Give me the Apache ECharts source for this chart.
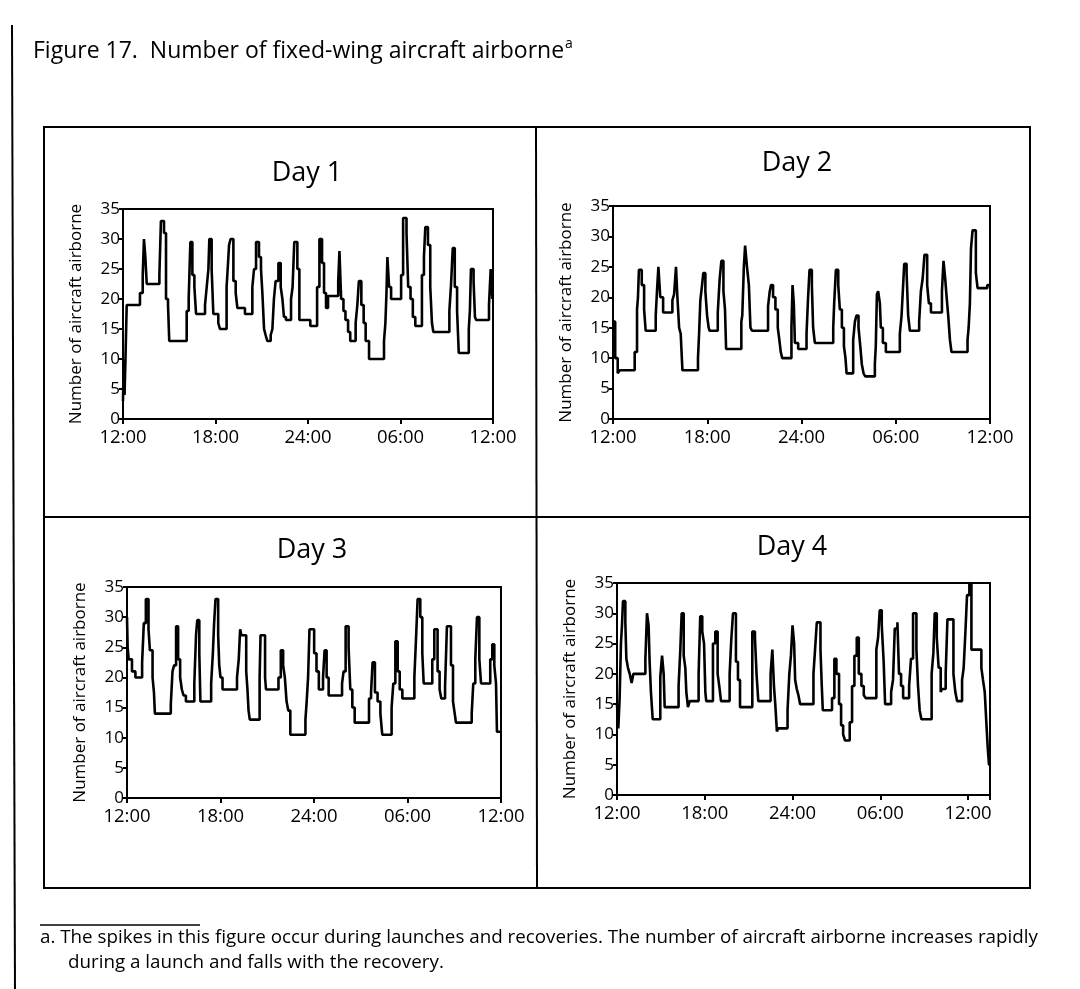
<!DOCTYPE html>
<html><head><meta charset="utf-8">
<script src="https://cdn.jsdelivr.net/npm/echarts@6/dist/echarts.min.js"></script>
<style>html,body{margin:0;padding:0;background:#fff}#c{width:1080px;height:989px}</style>
</head><body><div id="c"></div>
<script>
// ---- data ----
const xTickLabels = ['12:00', '18:00', '24:00', '06:00', '12:00'];
const dayNames = ['Day 1', 'Day 2', 'Day 3', 'Day 4'];
const yAxisName = 'Number of aircraft airborne';
// [hours after 12:00, aircraft airborne] – value holds until next point
const day1 = [[0,3],[0.05,10],[0.1,4],[0.16,10],[0.24,19],[1.10,21],[1.28,24],[1.36,30],[1.45,27],[1.54,22.5],[2.36,24],[2.46,33],[2.66,31],[2.79,20],[2.92,19],[3.0,13],[4.13,18],[4.26,20],[4.37,29.5],[4.5,24],[4.63,22],[4.74,17.5],[5.32,19],[5.43,22],[5.54,25],[5.6,30],[5.75,25],[5.86,17.5],[6.18,16],[6.29,15],[6.72,22],[6.79,25],[6.88,29],[6.98,30],[7.16,23],[7.31,21],[7.42,18.5],[7.91,17.5],[8.39,22],[8.5,25],[8.63,29.5],[8.82,27],[8.95,25],[9.04,21],[9.15,15],[9.25,14],[9.36,13],[9.58,14],[9.69,15],[9.79,20],[9.9,23],[10.08,26],[10.23,22],[10.34,20],[10.44,17],[10.57,16.5],[10.9,20],[11.0,22],[11.11,29.5],[11.31,25],[11.44,16.5],[12.15,15.5],[12.59,22],[12.74,30],[12.91,26],[13.04,21],[13.17,18.5],[13.3,20.5],[13.96,23],[14.04,28],[14.15,20],[14.3,18],[14.43,16.5],[14.6,14.5],[14.74,13],[15.09,16],[15.2,19],[15.3,23],[15.46,19],[15.61,16],[15.74,13],[15.96,10],[16.93,13],[17.02,16],[17.09,21],[17.15,27],[17.26,22],[17.39,20],[18.04,24],[18.17,33.5],[18.39,31],[18.5,22],[18.65,20],[18.8,17],[18.96,15.5],[19.39,24],[19.52,27],[19.61,32],[19.78,29],[19.93,22],[20.04,16],[20.13,14.5],[21.17,18],[21.28,22.5],[21.39,28.5],[21.52,22],[21.67,18],[21.78,11],[22.43,15],[22.5,18],[22.57,25],[22.74,23],[22.83,17],[22.91,16.5],[23.74,19],[23.85,25],[23.96,20]];
const day2 = [[0,16],[0.14,10],[0.30,7.5],[0.42,8],[1.38,11],[1.53,18],[1.59,20],[1.65,24.5],[1.83,22],[1.98,18],[2.08,14.5],[2.72,17],[2.80,21],[2.89,25],[3.01,20],[3.19,17.5],[3.78,19.5],[3.89,20.5],[4.01,25],[4.10,20],[4.21,15],[4.31,14],[4.42,8],[5.41,10],[5.48,14],[5.56,19.5],[5.67,22],[5.75,24],[5.88,21],[5.99,17],[6.09,15],[6.15,14.5],[6.67,17.5],[6.79,23],[6.90,26],[7.03,21],[7.13,18],[7.2,11.5],[8.17,16],[8.23,17],[8.33,25],[8.41,28.5],[8.53,25],[8.65,22],[8.75,15],[8.85,14.5],[9.87,18.5],[9.98,21],[10.06,22],[10.19,20],[10.34,18],[10.49,15],[10.59,13],[10.68,11],[10.77,10],[11.36,15],[11.43,22],[11.51,19],[11.58,12.5],[11.79,11.5],[12.32,14],[12.42,20],[12.51,24.5],[12.66,22],[12.74,15],[12.85,12.5],[14.02,15],[14.08,19],[14.19,24.5],[14.34,22],[14.44,18],[14.57,15],[14.7,12],[14.8,10],[14.87,7.5],[15.29,13],[15.4,16],[15.5,17],[15.63,15],[15.74,12],[15.84,9],[15.95,7.5],[16.06,7],[16.67,9],[16.73,12],[16.8,20.5],[16.88,21],[16.99,19],[17.05,15],[17.18,12.5],[17.37,11],[18.26,14],[18.37,17],[18.45,21],[18.54,25.5],[18.69,24],[18.79,17],[18.9,14.5],[19.49,16],[19.6,21],[19.71,23],[19.83,27],[20.0,22],[20.11,19],[20.24,17.5],[20.94,21],[21.04,26],[21.15,23],[21.24,20],[21.34,17],[21.45,13],[21.55,11],[22.57,13],[22.64,15],[22.72,19],[22.79,28],[22.89,31],[23.1,24],[23.21,21.5],[23.83,22]];
const day3 = [[0,30],[0.04,25],[0.11,23],[0.32,21],[0.54,20],[0.97,22.5],[1.08,29],[1.21,33],[1.38,28],[1.47,24.5],[1.64,20],[1.73,17.5],[1.79,14],[2.81,15.5],[2.92,21],[3.02,22],[3.15,28.5],[3.28,23],[3.41,20],[3.52,18],[3.63,17],[3.78,16],[4.32,19],[4.43,27],[4.51,29.5],[4.64,24],[4.71,16],[5.4,19],[5.51,24],[5.59,29],[5.68,33],[5.85,27],[5.92,22],[6.0,20],[6.13,18],[7.06,20],[7.17,23],[7.26,28],[7.34,27],[7.65,21],[7.73,18],[7.8,14.5],[7.88,13],[8.51,20],[8.57,27],[8.86,20],[8.92,18],[9.72,20],[9.87,24.5],[10.02,22],[10.13,20],[10.24,16],[10.35,14.5],[10.48,10.5],[11.45,13],[11.53,16],[11.62,20],[11.71,28],[12.01,24],[12.16,21],[12.31,18],[12.58,20],[12.68,24.5],[12.81,20],[12.94,17],[13.8,19],[13.9,21],[14.03,28.5],[14.22,25],[14.33,18],[14.46,15],[14.61,12.5],[15.53,16.5],[15.66,17.5],[15.76,22.5],[15.91,17.5],[16.08,16],[16.26,14],[16.38,10.5],[16.98,15],[17.09,19],[17.22,26],[17.37,21],[17.5,18],[17.67,16.5],[18.44,20],[18.54,26],[18.65,33],[18.82,30],[18.95,24],[19.04,19],[19.59,23],[19.72,28],[19.93,21],[20.06,18],[20.17,16.5],[20.41,18.5],[20.53,28.5],[20.79,22],[20.92,16],[21.03,14],[21.11,12.5],[22.12,14],[22.22,19],[22.35,23],[22.46,30],[22.61,23],[22.72,19],[23.31,23],[23.44,25.5],[23.57,22],[23.68,19],[23.74,11]];
const day4 = [[0,15],[0.09,11],[0.18,16],[0.27,25],[0.34,28],[0.41,32],[0.57,28.5],[0.64,22.5],[0.75,21],[0.87,20],[1.0,18.5],[1.12,20],[1.94,22.5],[2.05,30],[2.16,28],[2.23,22],[2.32,17],[2.44,12.5],[2.96,19.5],[3.08,23],[3.19,20],[3.26,14.5],[4.21,18],[4.33,24],[4.42,30],[4.56,23],[4.67,21],[4.74,17],[4.85,14.5],[4.97,15.5],[5.58,20],[5.69,29.5],[5.83,27],[5.95,25],[6.04,17],[6.1,15.5],[6.56,25],[6.72,27],[6.88,20],[6.99,18],[7.11,15.5],[7.7,20],[7.81,25.5],[7.93,30],[8.13,22],[8.27,19],[8.41,14.5],[9.25,27],[9.43,26],[9.54,20],[9.66,15.5],[10.5,20],[10.62,24],[10.73,18],[10.82,15],[10.93,10.5],[11.03,11],[11.66,14],[11.78,20],[11.89,23],[12.0,28],[12.11,25],[12.18,19],[12.29,17.5],[12.4,16.5],[12.52,15],[13.43,20],[13.54,24],[13.66,28.5],[13.91,24],[14.0,18],[14.07,14],[14.7,16],[14.86,22.5],[15.0,20],[15.18,15],[15.32,11.5],[15.46,10],[15.59,9],[15.91,12],[16.07,18],[16.23,23],[16.39,26],[16.53,20],[16.71,18],[16.87,16.5],[17.0,16],[17.73,24],[17.85,26],[17.96,30.5],[18.1,28],[18.23,22],[18.33,15],[18.74,17],[18.87,19],[18.99,27.5],[19.17,28.5],[19.28,20],[19.42,18],[19.56,16],[19.97,18],[20.1,22.5],[20.24,30],[20.47,24],[20.58,18],[20.69,14],[20.81,12.5],[21.51,20],[21.63,23.5],[21.72,30],[21.86,26],[21.99,21],[22.13,17],[22.22,17.5],[22.47,20],[22.59,29],[23.0,20],[23.13,17],[23.25,15.5],[23.59,19],[23.7,21],[23.82,27],[23.93,33],[24.09,35],[24.23,24],[24.91,21],[25.02,19],[25.14,17],[25.25,12],[25.34,8],[25.43,5]];
const dayData = [day1, day2, day3, day4];
const xMaxHours = [24, 24, 24, 25.5];
const figTitle = 'Figure 17.  Number of fixed-wing aircraft airborne';
const footnote1 = 'a. The spikes in this figure occur during launches and recoveries. The number of aircraft airborne increases rapidly';
const footnote2 = 'during a launch and falls with the recovery.';

// ---- layout (positions/styles) ----
const FONT = '"Open Sans", "DejaVu Sans", sans-serif';
const layout = [
  {left:123, top:209, width:370, height:210, tx:307, ty:173},
  {left:613, top:206, width:377, height:213, tx:797, ty:163},
  {left:127, top:587, width:374, height:211, tx:312, ty:550},
  {left:617, top:583, width:373, height:212, tx:792, ty:547}
];

const grids = [], xAxes = [], yAxes = [], series = [], graphics = [];
layout.forEach((L, i) => {
  grids.push({left:L.left, top:L.top, width:L.width, height:L.height, show:true,
    borderColor:'#000', borderWidth:2, backgroundColor:'transparent'});
  xAxes.push({type:'value', gridIndex:i, min:0, max:xMaxHours[i], interval:6,
    axisLine:{show:true, onZero:false, lineStyle:{color:'#000', width:2}},
    axisTick:{show:true, length:5, lineStyle:{color:'#000', width:2}},
    splitLine:{show:false},
    axisLabel:{color:'#000', fontSize:18.5, fontFamily:FONT, margin:9, showMinLabel:true, showMaxLabel:true, hideOverlap:false,
      formatter: v => (Math.abs(v % 6) < 1e-9 ? xTickLabels[Math.round(v/6)] : '')}});
  yAxes.push({type:'value', gridIndex:i, min:0, max:35, interval:5,
    name:yAxisName, nameLocation:'middle', nameGap:38, nameRotate:90,
    nameTextStyle:{color:'#000', fontSize:17, fontFamily:FONT},
    axisLine:{show:true, lineStyle:{color:'#000', width:2}},
    axisTick:{show:true, length:4, lineStyle:{color:'#000', width:2}},
    splitLine:{show:false},
    axisLabel:{color:'#000', fontSize:17, fontFamily:FONT, margin:3}});
  const d = dayData[i].slice();
  d.push([xMaxHours[i], d[d.length-1][1]]);
  series.push({type:'line', xAxisIndex:i, yAxisIndex:i, step:'end', symbol:'none',
    data:d, lineStyle:{color:'#000', width:2.6}, animation:false, silent:true});
  graphics.push({type:'text', x:L.tx, y:L.ty, style:{text:dayNames[i], fill:'#000',
    font:'27px ' + FONT, align:'center', verticalAlign:'middle'}});
});
// frame
graphics.push({type:'rect', shape:{x:44, y:127, width:986, height:761}, style:{fill:null, stroke:'#000', lineWidth:2}});
graphics.push({type:'line', shape:{x1:536, y1:127, x2:537, y2:888}, style:{stroke:'#000', lineWidth:2}});
graphics.push({type:'line', shape:{x1:44, y1:517, x2:1030, y2:517}, style:{stroke:'#000', lineWidth:2}});
// margin line
graphics.push({type:'line', shape:{x1:12, y1:25, x2:15, y2:989}, style:{stroke:'#000', lineWidth:2}});
// footnote rule
graphics.push({type:'line', shape:{x1:40, y1:925, x2:200, y2:925}, style:{stroke:'#000', lineWidth:1.5}});
// title
graphics.push({type:'text', x:33, y:51, style:{text:figTitle + '{sup|a}', fill:'#000',
  font:'23px ' + FONT, align:'left', verticalAlign:'middle',
  rich:{sup:{fontSize:14, fontFamily:FONT, fill:'#000', padding:[0,0,14,1]}}}});
// footnotes
graphics.push({type:'text', x:40, y:938, style:{text:footnote1, fill:'#000', font:'18.8px ' + FONT, align:'left', verticalAlign:'middle'}});
graphics.push({type:'text', x:68, y:963, style:{text:footnote2, fill:'#000', font:'18.8px ' + FONT, align:'left', verticalAlign:'middle'}});

const chart = echarts.init(document.getElementById('c'), null, {renderer:'canvas'});
chart.setOption({backgroundColor:'#fff', animation:false, grid:grids, xAxis:xAxes, yAxis:yAxes, series:series, graphic:graphics});
</script></body></html>
